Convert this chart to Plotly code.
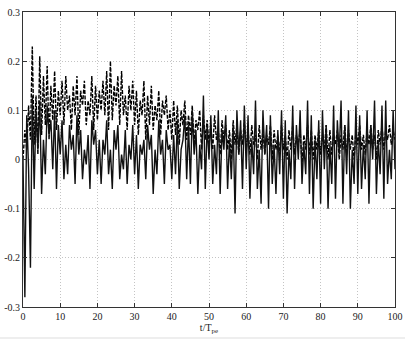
import numpy as np
import plotly.graph_objects as go

# solid series, sampled every 0.5 t/T_pe from 0 to 100
solid = [
    0.00, -0.28, 0.09, -0.02, -0.22, 0.13, -0.06, 0.10, 0.02, 0.12, -0.07, 0.04, -0.03, 0.11, 0.05, 0.08, -0.02, 0.10, -0.06, 0.07, 0.01,
    0.08, -0.04, 0.03, -0.03, 0.07, 0.02, 0.05, -0.05, 0.09, 0.01, 0.06, -0.04, 0.02, -0.01, 0.05, -0.06, 0.08, 0.03, 0.06, -0.03,
    0.04, -0.05, 0.04, 0.01, 0.08, -0.03, 0.02, -0.06, 0.06, 0.02, 0.07, -0.04, 0.01, -0.02, 0.06, -0.05, 0.03, 0.00, 0.07, -0.03,
    0.05, -0.06, 0.03, 0.01, 0.04, -0.04, 0.07, 0.02, 0.05, -0.07, 0.02, -0.03, 0.08, 0.01, 0.04, -0.05, 0.06, 0.02, 0.03, -0.04,
    0.05, -0.03, 0.08, -0.06, 0.02, 0.04, 0.09, -0.04, 0.07, -0.05, 0.10, 0.01, 0.06, -0.07, 0.03, -0.02, 0.13, -0.06, 0.07, 0.00,
    0.09, -0.05, 0.03, -0.03, 0.10, -0.07, 0.06, 0.02, 0.09, -0.06, 0.04, -0.04, 0.07, -0.11, 0.10, 0.01, 0.08, -0.06, 0.11, -0.02,
    0.09, -0.08, 0.04, -0.03, 0.12, -0.06, 0.02, -0.09, 0.10, 0.01, 0.07, -0.10, 0.09, -0.05, 0.03, -0.07, 0.06, -0.03, 0.10, -0.08,
    0.08, -0.11, 0.02, -0.04, 0.11, -0.06, 0.07, 0.00, 0.10, -0.05, 0.03, -0.03, 0.12, -0.07, 0.09, -0.10, 0.04, -0.04, 0.08, -0.09,
    0.10, -0.02, 0.07, -0.10, 0.03, -0.05, 0.11, -0.08, 0.08, 0.01, 0.12, -0.09, 0.07, -0.03, 0.10, -0.10, 0.02, -0.05, 0.11, -0.07,
    0.09, -0.06, 0.03, -0.04, 0.10, -0.09, 0.07, 0.00, 0.12, -0.07, 0.04, -0.03, 0.11, -0.08, 0.12, -0.05, 0.02, -0.04, 0.10, -0.02,
]

# dashed series, same sampling
dashed = [
    0.00, 0.06, 0.02, 0.11, 0.04, 0.23, 0.03, 0.13, 0.01, 0.21, 0.05, 0.17, 0.07, 0.19, 0.04, 0.15, 0.08, 0.18, 0.06, 0.14, 0.09,
    0.16, 0.07, 0.17, 0.10, 0.13, 0.06, 0.15, 0.09, 0.17, 0.05, 0.14, 0.11, 0.16, 0.07, 0.12, 0.09, 0.17, 0.06, 0.15, 0.08,
    0.14, 0.10, 0.16, 0.09, 0.18, 0.06, 0.20, 0.08, 0.15, 0.11, 0.17, 0.07, 0.18, 0.09, 0.13, 0.06, 0.15, 0.10, 0.16, 0.07,
    0.14, 0.05, 0.12, 0.09, 0.16, 0.04, 0.13, 0.07, 0.15, 0.06, 0.11, 0.08, 0.14, 0.05, 0.12, 0.09, 0.13, 0.06, 0.10, 0.04,
    0.12, 0.05, 0.11, 0.03, 0.10, 0.07, 0.12, 0.04, 0.09, 0.05, 0.11, 0.03, 0.08, 0.06, 0.10, 0.02, 0.09, 0.04, 0.08, 0.03,
    0.07, 0.02, 0.09, 0.04, 0.06, 0.01, 0.08, 0.04, 0.07, 0.02, 0.06, 0.00, 0.08, 0.03, 0.07, 0.01, 0.06, 0.03, 0.08, 0.02,
    0.06, 0.01, 0.07, 0.03, 0.05, 0.00, 0.07, 0.02, 0.06, 0.01, 0.05, 0.03, 0.07, 0.00, 0.06, 0.02, 0.05, 0.01, 0.07, 0.02,
    0.05, 0.00, 0.06, 0.02, 0.07, 0.01, 0.05, 0.03, 0.06, -0.01, 0.05, 0.02, 0.07, 0.01, 0.06, 0.00, 0.05, 0.02, 0.06, 0.01,
    0.05, 0.02, 0.07, 0.00, 0.06, 0.01, 0.05, 0.03, 0.06, 0.00, 0.05, 0.02, 0.07, 0.01, 0.06, 0.02, 0.05, 0.00, 0.06, 0.03,
    0.07, 0.02, 0.05, 0.01, 0.06, 0.03, 0.07, 0.02, 0.05, 0.00, 0.06, 0.03, 0.07, 0.02, 0.06, 0.04, 0.07, 0.03, 0.06, 0.04,
]

x_ticks = [0, 10, 20, 30, 40, 50, 60, 70, 80, 90, 100]
y_ticks = [-0.3, -0.2, -0.1, 0, 0.1, 0.2, 0.3]
y_tick_labels = ["-0.3", "-0.2", "-0.1", "0", "0.1", "0.2", "0.3"]

t_dashed = np.linspace(0, 100, len(dashed))
t_solid = np.linspace(0, 100, len(solid))

fig = go.Figure()
fig.add_trace(go.Scatter(x=t_dashed, y=dashed, mode="lines",
                         line=dict(color="black", width=1.4, dash="4px,1.5px")))
fig.add_trace(go.Scatter(x=t_solid, y=solid, mode="lines",
                         line=dict(color="#111111", width=1.4)))

axis_common = dict(
    showline=True, linecolor="#333333", linewidth=1, mirror="ticks",
    ticks="inside", ticklen=4, tickcolor="#333333",
    showgrid=True, gridcolor="#c4c4c4", griddash="1px,2px", gridwidth=1,
    zeroline=False, automargin=False,
    tickfont=dict(family="Liberation Serif", size=10, color="#222222"),
)

fig.update_layout(
    width=405, height=340,
    margin=dict(l=23, r=10, t=12, b=33),
    paper_bgcolor="white", plot_bgcolor="white",
    showlegend=False,
    xaxis=dict(range=[0, 100], tickvals=x_ticks, **axis_common,
               title=dict(text="t/T<sub>pe</sub>", standoff=2,
                          font=dict(family="Liberation Serif", size=10, color="#222222"))),
    yaxis=dict(range=[-0.3, 0.3], tickvals=y_ticks, ticktext=y_tick_labels, **axis_common),
    shapes=[dict(type="line", xref="paper", yref="paper",
                 x0=-23/372, x1=1+10/372, y0=-31/295, y1=-31/295,
                 line=dict(color="#dddddd", width=1))],
)

fig.write_html("out.html")
